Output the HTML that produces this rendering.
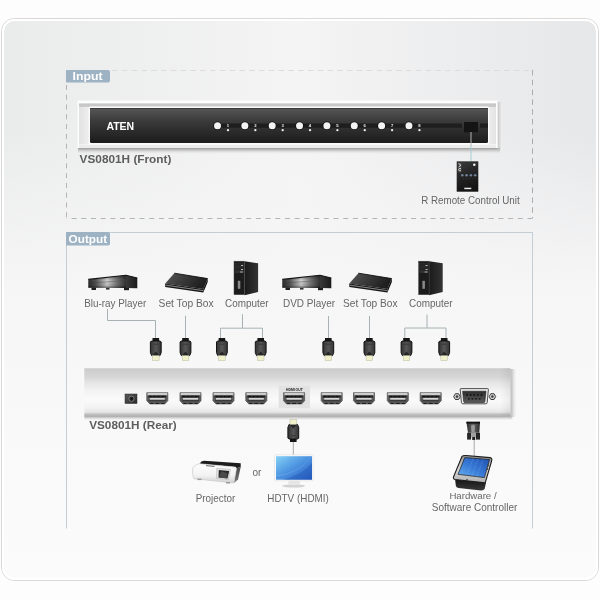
<!DOCTYPE html>
<html><head><meta charset="utf-8">
<style>
html,body{margin:0;padding:0;background:#fcfdfc;width:600px;height:600px;overflow:hidden}
svg{display:block;will-change:transform}
text{font-family:"Liberation Sans",sans-serif}
</style></head>
<body>
<svg width="600" height="600" viewBox="0 0 600 600">
<defs>
  <linearGradient id="card" x1="0" y1="0" x2="1" y2="0">
    <stop offset="0" stop-color="#eaebeb"/>
    <stop offset="0.5" stop-color="#f4f4f5"/>
    <stop offset="1" stop-color="#e6e7e8"/>
  </linearGradient>
  <linearGradient id="card2" x1="0" y1="0" x2="0" y2="1">
    <stop offset="0" stop-color="#f6f6f7" stop-opacity="0"/>
    <stop offset="0.2" stop-color="#f6f6f7" stop-opacity="0"/>
    <stop offset="0.48" stop-color="#f6f6f7" stop-opacity="1"/>
    <stop offset="0.75" stop-color="#f9f9f9" stop-opacity="1"/>
    <stop offset="1" stop-color="#fbfbfb" stop-opacity="1"/>
  </linearGradient>
  <linearGradient id="panel" x1="0" y1="0" x2="0" y2="1">
    <stop offset="0" stop-color="#575757"/>
    <stop offset="0.35" stop-color="#3c3c3c"/>
    <stop offset="0.7" stop-color="#2a2a2a"/>
    <stop offset="1" stop-color="#1c1c1c"/>
  </linearGradient>
  <linearGradient id="frameL" x1="0" y1="0" x2="1" y2="0">
    <stop offset="0" stop-color="#dcdcdc"/>
    <stop offset="0.4" stop-color="#eeeeee"/>
    <stop offset="1" stop-color="#ffffff"/>
  </linearGradient>
  <linearGradient id="frameR" x1="1" y1="0" x2="0" y2="0">
    <stop offset="0" stop-color="#dcdcdc"/>
    <stop offset="0.4" stop-color="#eeeeee"/>
    <stop offset="1" stop-color="#ffffff"/>
  </linearGradient>
  <linearGradient id="frameT" x1="0" y1="0" x2="0" y2="1">
    <stop offset="0" stop-color="#ffffff"/>
    <stop offset="0.3" stop-color="#e2e2e2"/>
    <stop offset="1" stop-color="#f8f8f8"/>
  </linearGradient>
  <linearGradient id="shadowB" x1="0" y1="0" x2="0" y2="1">
    <stop offset="0" stop-color="#b0b0b0"/>
    <stop offset="1" stop-color="#bcbcbc" stop-opacity="0"/>
  </linearGradient>
  <linearGradient id="shadowR" x1="0" y1="0" x2="1" y2="0">
    <stop offset="0" stop-color="#c4c4c4"/>
    <stop offset="1" stop-color="#c4c4c4" stop-opacity="0"/>
  </linearGradient>
  <linearGradient id="rear" x1="0" y1="0" x2="0" y2="1">
    <stop offset="0" stop-color="#dadada"/>
    <stop offset="0.03" stop-color="#cdcdcd"/>
    <stop offset="0.18" stop-color="#d5d5d5"/>
    <stop offset="0.32" stop-color="#e6e6e6"/>
    <stop offset="0.48" stop-color="#f3f3f3"/>
    <stop offset="0.67" stop-color="#fafafa"/>
    <stop offset="0.82" stop-color="#f3f3f3"/>
    <stop offset="0.92" stop-color="#e8e8e8"/>
    <stop offset="0.96" stop-color="#d0d0d0"/>
    <stop offset="1" stop-color="#a6a6a6"/>
  </linearGradient>
  <linearGradient id="plugBody" x1="0" y1="0" x2="1" y2="0">
    <stop offset="0" stop-color="#333"/>
    <stop offset="0.5" stop-color="#575757"/>
    <stop offset="1" stop-color="#333"/>
  </linearGradient>
  <linearGradient id="devFront" x1="0" y1="0" x2="1" y2="0">
    <stop offset="0" stop-color="#2a2a2a"/>
    <stop offset="0.2" stop-color="#555"/>
    <stop offset="0.5" stop-color="#d0d0d0"/>
    <stop offset="0.75" stop-color="#777"/>
    <stop offset="1" stop-color="#333"/>
  </linearGradient>
  <linearGradient id="screen" x1="0" y1="0" x2="1" y2="1">
    <stop offset="0" stop-color="#86d2f6"/>
    <stop offset="0.45" stop-color="#4f97e2"/>
    <stop offset="1" stop-color="#2a5ec4"/>
  </linearGradient>
  <linearGradient id="ctlScreen" x1="0" y1="1" x2="1" y2="0">
    <stop offset="0" stop-color="#6ab4f0"/>
    <stop offset="0.45" stop-color="#3a7cd8"/>
    <stop offset="1" stop-color="#1e50b0"/>
  </linearGradient>
  <linearGradient id="ctlFrame" x1="0" y1="0" x2="0" y2="1">
    <stop offset="0" stop-color="#8a8a8a"/>
    <stop offset="0.5" stop-color="#d8d8d8"/>
    <stop offset="1" stop-color="#b0b0b0"/>
  </linearGradient>
  <linearGradient id="ctlBase" x1="0" y1="0" x2="0" y2="1">
    <stop offset="0" stop-color="#111"/>
    <stop offset="1" stop-color="#3a3a3a"/>
  </linearGradient>
  <linearGradient id="db9plug" x1="0" y1="0" x2="1" y2="0">
    <stop offset="0" stop-color="#2a2a2a"/>
    <stop offset="0.5" stop-color="#6a6a6a"/>
    <stop offset="1" stop-color="#2a2a2a"/>
  </linearGradient>
  <linearGradient id="remoteG" x1="0" y1="0" x2="0.3" y2="1">
    <stop offset="0" stop-color="#3a3a3a"/>
    <stop offset="0.5" stop-color="#262626"/>
    <stop offset="1" stop-color="#141414"/>
  </linearGradient>
  <linearGradient id="devSide" x1="0" y1="0" x2="1" y2="0">
    <stop offset="0" stop-color="#3a3a3a"/>
    <stop offset="1" stop-color="#1a1a1a"/>
  </linearGradient>
  <linearGradient id="stbTop" x1="0" y1="0" x2="1" y2="0.3">
    <stop offset="0" stop-color="#555"/>
    <stop offset="0.5" stop-color="#3a3a3a"/>
    <stop offset="1" stop-color="#1e1e1e"/>
  </linearGradient>
  <linearGradient id="towerSide" x1="0" y1="0" x2="1" y2="0">
    <stop offset="0" stop-color="#1a1a1a"/>
    <stop offset="1" stop-color="#333"/>
  </linearGradient>
  <linearGradient id="jack" x1="0" y1="0" x2="1" y2="1">
    <stop offset="0" stop-color="#5a5a5a"/>
    <stop offset="1" stop-color="#2a2a2a"/>
  </linearGradient>
  <linearGradient id="db9in" x1="0" y1="0" x2="0" y2="1">
    <stop offset="0" stop-color="#2e2e2e"/>
    <stop offset="1" stop-color="#5a5a5a"/>
  </linearGradient>
  <linearGradient id="devShade" x1="0" y1="0" x2="0" y2="1">
    <stop offset="0" stop-color="#000" stop-opacity="0.35"/>
    <stop offset="0.4" stop-color="#000" stop-opacity="0"/>
    <stop offset="0.8" stop-color="#000" stop-opacity="0.1"/>
    <stop offset="1" stop-color="#000" stop-opacity="0.5"/>
  </linearGradient>
  <linearGradient id="frameIn" x1="0" y1="0" x2="1" y2="0">
    <stop offset="0" stop-color="#e2e2e2"/>
    <stop offset="0.025" stop-color="#efefef"/>
    <stop offset="0.975" stop-color="#efefef"/>
    <stop offset="1" stop-color="#e4e4e4"/>
  </linearGradient>
  <linearGradient id="frameTop" x1="0" y1="0" x2="0" y2="1">
    <stop offset="0" stop-color="#e8e8e8"/>
    <stop offset="0.3" stop-color="#c8c8c8"/>
    <stop offset="0.85" stop-color="#c8c8c8"/>
    <stop offset="1" stop-color="#dcdcdc"/>
  </linearGradient>
  <linearGradient id="projSide" x1="0" y1="0" x2="0" y2="1">
    <stop offset="0" stop-color="#4a4a4a"/>
    <stop offset="1" stop-color="#777"/>
  </linearGradient>
  <linearGradient id="projBody" x1="0" y1="0" x2="0" y2="1">
    <stop offset="0" stop-color="#fdfdfd"/>
    <stop offset="0.6" stop-color="#f2f2f2"/>
    <stop offset="1" stop-color="#d0d0d0"/>
  </linearGradient>
  <linearGradient id="shadowR2" x1="0" y1="0" x2="1" y2="0">
    <stop offset="0" stop-color="#b8b8b8"/>
    <stop offset="0.4" stop-color="#d4d4d4"/>
    <stop offset="1" stop-color="#e8e8e8" stop-opacity="0"/>
  </linearGradient>
  <linearGradient id="rearR" x1="0" y1="0" x2="1" y2="0">
    <stop offset="0" stop-color="#000" stop-opacity="0"/>
    <stop offset="1" stop-color="#000" stop-opacity="0.06"/>
  </linearGradient>
  <linearGradient id="shadowB3" x1="0" y1="0" x2="0" y2="1">
    <stop offset="0" stop-color="#9c9c9c"/>
    <stop offset="0.35" stop-color="#c4c4c4"/>
    <stop offset="1" stop-color="#e8e8e8" stop-opacity="0"/>
  </linearGradient>
  <g id="plug">
    <rect x="-3.3" y="0" width="6.6" height="3.4" fill="#161616"/>
    <path d="M-4.4 3 H4.4 L5.4 4 V14.6 L4.2 17.6 H-4.2 L-5.4 14.6 V4 Z" fill="url(#plugBody)" stroke="#121212" stroke-width="1"/>
    <path d="M-2.5 6.2 H2.5" stroke="#2a2a2a" stroke-width="0.7"/>
    <path d="M-3.2 17 L0 13.6 L3.2 17" fill="#262626"/>
    <rect x="-3.3" y="17.6" width="6.6" height="5" fill="#f1f2cc" stroke="#b9baa0" stroke-width="0.5"/>
  </g>
  <g id="port">
    <path d="M0 0.5 H21 V8.5 L18 11.7 H3 L0 8.5 Z" fill="#5c5c5c" stroke="#555" stroke-width="0.8"/>
    <rect x="0.6" y="0.6" width="19.8" height="2.4" fill="#d0d0d0" stroke="#8a8a8a" stroke-width="0.5"/>
    <rect x="1.6" y="3.3" width="17.8" height="2" fill="#262626"/>
    <path d="M3 4.3 h1.6 M7 4.3 h1.6 M11 4.3 h1.6 M15 4.3 h1.6" stroke="#0a0a0a" stroke-width="1.2"/>
    <rect x="3" y="6" width="15" height="1.5" fill="#f4f4f4"/>
    <rect x="2" y="7.6" width="17" height="1.6" fill="#3a3a3a"/>
    <path d="M3.5 11.2 h3 M8.5 11.2 h4 M14.5 11.2 h3" stroke="#1a1a1a" stroke-width="1"/>
  </g>
</defs>

<rect x="1.5" y="18.5" width="597" height="562" rx="13" fill="url(#card)"/>
<rect x="1.5" y="18.5" width="597" height="562" rx="13" fill="url(#card2)" stroke="#d8d8d8" stroke-width="1"/>
<rect x="3" y="20" width="594" height="559" rx="11.5" fill="none" stroke="#ffffff" stroke-width="2"/>
<path d="M110 70.5 H532" stroke="#dcdcdc" stroke-width="1" stroke-dasharray="5.5,4.3" stroke-dashoffset="7.8" fill="none"/>
<path d="M66.5 82.5 V218" stroke="#b4b4b4" stroke-width="1" stroke-dasharray="5,4.8" stroke-dashoffset="7.4" fill="none"/>
<path d="M66.5 218.5 H532" stroke="#b4b4b4" stroke-width="1" stroke-dasharray="5,4.7" stroke-dashoffset="4.6" fill="none"/>
<path d="M532.5 70 V218.5" stroke="#acacac" stroke-width="1" stroke-dasharray="5.5,4.3" fill="none"/>
<path d="M66 70 H108 a2 2 0 0 1 2 2 V80.5 a2 2 0 0 1 -2 2 H66 Z" fill="#9db2c2"/>
<text x="72.6" y="80.2" font-size="11.2" font-weight="bold" fill="#fff" textLength="30" lengthAdjust="spacingAndGlyphs">Input</text>
<rect x="78" y="148" width="422" height="6" fill="url(#shadowB3)"/>
<rect x="497.5" y="102" width="4" height="48" fill="url(#shadowR)"/>
<rect x="77.6" y="100.6" width="419.9" height="47.4" fill="#fdfdfd"/>
<rect x="79" y="103" width="417" height="41.5" fill="url(#frameIn)"/>
<rect x="79" y="103" width="417" height="4" fill="url(#frameTop)"/>
<rect x="88.6" y="106.6" width="400.6" height="38" rx="1.5" fill="#fbfbfb"/>
<rect x="79" y="145" width="417" height="3" fill="#ececec"/>
<rect x="90" y="108" width="398" height="35" rx="1.5" fill="url(#panel)"/>
<rect x="90" y="108" width="398" height="1" fill="#3a3a3a"/>
<rect x="222" y="123.5" width="240" height="4.3" fill="#1e1e1e"/>
<rect x="480" y="123.5" width="8" height="4.3" fill="#1e1e1e"/>
<rect x="464" y="122" width="14" height="10.3" fill="#141414"/>
<circle cx="217.50" cy="125.8" r="4.3" fill="#111"/>
<circle cx="217.50" cy="125.8" r="3.5" fill="#f4f4f4"/>
<text x="226.80" y="127.4" font-size="4.2" font-weight="bold" fill="#eee">1</text>
<circle cx="228.00" cy="130.2" r="1.15" fill="#f2f2f2"/>
<circle cx="244.85" cy="125.8" r="4.3" fill="#111"/>
<circle cx="244.85" cy="125.8" r="3.5" fill="#f4f4f4"/>
<text x="254.15" y="127.4" font-size="4.2" font-weight="bold" fill="#eee">2</text>
<circle cx="255.35" cy="130.2" r="1.15" fill="#f2f2f2"/>
<circle cx="272.20" cy="125.8" r="4.3" fill="#111"/>
<circle cx="272.20" cy="125.8" r="3.5" fill="#f4f4f4"/>
<text x="281.50" y="127.4" font-size="4.2" font-weight="bold" fill="#eee">3</text>
<circle cx="282.70" cy="130.2" r="1.15" fill="#f2f2f2"/>
<circle cx="299.55" cy="125.8" r="4.3" fill="#111"/>
<circle cx="299.55" cy="125.8" r="3.5" fill="#f4f4f4"/>
<text x="308.85" y="127.4" font-size="4.2" font-weight="bold" fill="#eee">4</text>
<circle cx="310.05" cy="130.2" r="1.15" fill="#f2f2f2"/>
<circle cx="326.90" cy="125.8" r="4.3" fill="#111"/>
<circle cx="326.90" cy="125.8" r="3.5" fill="#f4f4f4"/>
<text x="336.20" y="127.4" font-size="4.2" font-weight="bold" fill="#eee">5</text>
<circle cx="337.40" cy="130.2" r="1.15" fill="#f2f2f2"/>
<circle cx="354.25" cy="125.8" r="4.3" fill="#111"/>
<circle cx="354.25" cy="125.8" r="3.5" fill="#f4f4f4"/>
<text x="363.55" y="127.4" font-size="4.2" font-weight="bold" fill="#eee">6</text>
<circle cx="364.75" cy="130.2" r="1.15" fill="#f2f2f2"/>
<circle cx="381.60" cy="125.8" r="4.3" fill="#111"/>
<circle cx="381.60" cy="125.8" r="3.5" fill="#f4f4f4"/>
<text x="390.90" y="127.4" font-size="4.2" font-weight="bold" fill="#eee">7</text>
<circle cx="392.10" cy="130.2" r="1.15" fill="#f2f2f2"/>
<circle cx="408.95" cy="125.8" r="4.3" fill="#111"/>
<circle cx="408.95" cy="125.8" r="3.5" fill="#f4f4f4"/>
<text x="418.25" y="127.4" font-size="4.2" font-weight="bold" fill="#eee">8</text>
<circle cx="419.45" cy="130.2" r="1.15" fill="#f2f2f2"/>
<text x="106.4" y="129.9" font-size="10.8" font-weight="bold" fill="#fff" textLength="27.8" lengthAdjust="spacingAndGlyphs">ATEN</text>
<text x="79.6" y="163" font-size="11.4" font-weight="bold" fill="#5e5e5e" textLength="91.8" lengthAdjust="spacingAndGlyphs">VS0801H (Front)</text>
<line x1="471" y1="132" x2="471" y2="146" stroke="#b4b4b4" stroke-width="1"/>
<line x1="471" y1="146" x2="471" y2="161.3" stroke="#a6ccd2" stroke-width="1"/>
<rect x="456.7" y="161.3" width="21.6" height="30.4" fill="url(#remoteG)"/>
<circle cx="474.3" cy="164.8" r="1.3" fill="#f4f4f4"/>
<path d="M458.6 163.5 L461 165.3 L458.6 167 M461 168.6 Q458.3 168.2 458.5 169.8 Q458.8 171.2 461 170.8" stroke="#e0e0e0" stroke-width="0.9" fill="none"/>
<rect x="458.3" y="163" width="3.2" height="9.2" fill="#fff" opacity="0.12"/>
<circle cx="462.3" cy="175.2" r="1.3" fill="#7890a8" opacity="0.85"/>
<circle cx="466.6" cy="175.2" r="1.3" fill="#7890a8" opacity="0.85"/>
<circle cx="470.9" cy="175.2" r="1.3" fill="#7890a8" opacity="0.85"/>
<circle cx="475.2" cy="175.2" r="1.3" fill="#7890a8" opacity="0.85"/>
<path d="M463 178.5 H477" stroke="#555" stroke-width="0.4" stroke-dasharray="0.8,1.6"/>
<rect x="464.3" y="187.7" width="7" height="1.5" fill="#e8e8e8"/>
<text x="421.2" y="204.1" font-size="10" fill="#666" textLength="98.5" lengthAdjust="spacingAndGlyphs">R Remote Control Unit</text>
<path d="M66.5 528.5 V232.5 H532.5 V528.5" fill="none" stroke="#c3ced4" stroke-width="1"/>
<path d="M66 232 H108 a2 2 0 0 1 2 2 V243.5 a2 2 0 0 1 -2 2 H66 Z" fill="#9db2c2"/>
<text x="68.6" y="243.2" font-size="11.2" font-weight="bold" fill="#fff" textLength="38.5" lengthAdjust="spacingAndGlyphs">Output</text>
<g transform="translate(0.00,0)"><path d="M126 275.3 L137.3 278 L137.3 288.2 L126 288 Z" fill="url(#devSide)"/><path d="M88.3 279.4 L126 275.3 L126 288 L88.3 287.7 Z" fill="url(#devFront)"/><path d="M88.3 279.4 L126 275.3 L126 288 L88.3 287.7 Z" fill="url(#devShade)"/><path d="M88.3 279.4 L126 275.3 L137.3 278" stroke="#151515" stroke-width="1.1" fill="none"/><path d="M88.3 283 L126 280.5" stroke="#3a3a3a" stroke-width="0.5" opacity="0.7"/><rect x="91.5" y="287.6" width="4.5" height="2.4" fill="#1e1e1e"/><rect x="106" y="287.8" width="3.5" height="1.8" fill="#333"/><rect x="124" y="288" width="5" height="2.2" fill="#1e1e1e"/></g>
<g transform="translate(0.00,0)"><path d="M165.2 283.4 L174.3 273.2 L207.7 278.6 L203.3 289 Z" fill="url(#stbTop)"/><path d="M165.2 283.4 L203.3 289 L203.3 292.4 L165.2 287 Z" fill="#161616"/><path d="M165.8 285.2 L203 290.6" stroke="#a8a8a8" stroke-width="0.8"/><path d="M203.3 289 L207.7 278.6 L207.7 282 L203.3 292.4 Z" fill="#0c0c0c"/><path d="M174.3 273.2 L207.7 278.6" stroke="#0e0e0e" stroke-width="0.9"/></g>
<g transform="translate(0.00,0)"><path d="M244.5 261.2 L258.1 263.3 L258.1 292 L244.5 295.2 Z" fill="url(#towerSide)"/><rect x="234" y="261.2" width="10.5" height="33.5" fill="#1c1c1c"/><rect x="234" y="261.2" width="10.5" height="33.5" fill="none" stroke="#444" stroke-width="0.5"/><rect x="235" y="263.6" width="8.5" height="3" fill="#262626" stroke="#3a3a3a" stroke-width="0.4"/><rect x="241" y="265" width="2" height="1" fill="#bbb"/><rect x="235" y="267.5" width="8.5" height="3" fill="#262626" stroke="#3a3a3a" stroke-width="0.4"/><rect x="241" y="269" width="2" height="1" fill="#bbb"/><rect x="235" y="271.6" width="8.5" height="0.8" fill="#555"/><rect x="240" y="271.5" width="3" height="1" fill="#aaa"/><rect x="237.8" y="280.8" width="2.5" height="8" fill="#8a8a8a"/></g>
<g transform="translate(194.00,0)"><path d="M126 275.3 L137.3 278 L137.3 288.2 L126 288 Z" fill="url(#devSide)"/><path d="M88.3 279.4 L126 275.3 L126 288 L88.3 287.7 Z" fill="url(#devFront)"/><path d="M88.3 279.4 L126 275.3 L126 288 L88.3 287.7 Z" fill="url(#devShade)"/><path d="M88.3 279.4 L126 275.3 L137.3 278" stroke="#151515" stroke-width="1.1" fill="none"/><path d="M88.3 283 L126 280.5" stroke="#3a3a3a" stroke-width="0.5" opacity="0.7"/><rect x="91.5" y="287.6" width="4.5" height="2.4" fill="#1e1e1e"/><rect x="106" y="287.8" width="3.5" height="1.8" fill="#333"/><rect x="124" y="288" width="5" height="2.2" fill="#1e1e1e"/></g>
<g transform="translate(184.10,0)"><path d="M165.2 283.4 L174.3 273.2 L207.7 278.6 L203.3 289 Z" fill="url(#stbTop)"/><path d="M165.2 283.4 L203.3 289 L203.3 292.4 L165.2 287 Z" fill="#161616"/><path d="M165.8 285.2 L203 290.6" stroke="#a8a8a8" stroke-width="0.8"/><path d="M203.3 289 L207.7 278.6 L207.7 282 L203.3 292.4 Z" fill="#0c0c0c"/><path d="M174.3 273.2 L207.7 278.6" stroke="#0e0e0e" stroke-width="0.9"/></g>
<g transform="translate(184.60,0)"><path d="M244.5 261.2 L258.1 263.3 L258.1 292 L244.5 295.2 Z" fill="url(#towerSide)"/><rect x="234" y="261.2" width="10.5" height="33.5" fill="#1c1c1c"/><rect x="234" y="261.2" width="10.5" height="33.5" fill="none" stroke="#444" stroke-width="0.5"/><rect x="235" y="263.6" width="8.5" height="3" fill="#262626" stroke="#3a3a3a" stroke-width="0.4"/><rect x="241" y="265" width="2" height="1" fill="#bbb"/><rect x="235" y="267.5" width="8.5" height="3" fill="#262626" stroke="#3a3a3a" stroke-width="0.4"/><rect x="241" y="269" width="2" height="1" fill="#bbb"/><rect x="235" y="271.6" width="8.5" height="0.8" fill="#555"/><rect x="240" y="271.5" width="3" height="1" fill="#aaa"/><rect x="237.8" y="280.8" width="2.5" height="8" fill="#8a8a8a"/></g>
<g font-size="10.5" fill="#666">
<text x="84.2" y="306.7" textLength="62" lengthAdjust="spacingAndGlyphs">Blu-ray Player</text>
<text x="158.6" y="306.7" textLength="55" lengthAdjust="spacingAndGlyphs">Set Top Box</text>
<text x="225" y="306.7" textLength="43.5" lengthAdjust="spacingAndGlyphs">Computer</text>
<text x="283" y="306.7" textLength="52" lengthAdjust="spacingAndGlyphs">DVD Player</text>
<text x="343" y="306.7" textLength="54.5" lengthAdjust="spacingAndGlyphs">Set Top Box</text>
<text x="409" y="306.7" textLength="43.5" lengthAdjust="spacingAndGlyphs">Computer</text>
</g>
<g stroke="#a6b2b4" stroke-width="1" fill="none">
<path d="M107.5 309 V320.5 H155.5 V338.5"/>
<path d="M185.5 315.8 V338.5"/>
<path d="M242.5 314.2 V328.2 M220.5 338.5 V328.2 H262.5 V338.5"/>
<path d="M328.5 316 V338.5"/>
<path d="M369.5 316 V338.5"/>
<path d="M427 314.5 V328 M404.8 338.5 V328 H446 V338.5"/>
</g>
<use href="#plug" transform="translate(155.8,338)"/>
<use href="#plug" transform="translate(185.5,338)"/>
<use href="#plug" transform="translate(221.9,338)"/>
<use href="#plug" transform="translate(260.7,338)"/>
<use href="#plug" transform="translate(328.3,338)"/>
<use href="#plug" transform="translate(369.4,338)"/>
<use href="#plug" transform="translate(406.5,338)"/>
<use href="#plug" transform="translate(444.2,338)"/>
<rect x="84.3" y="415.5" width="428" height="5" fill="url(#shadowB3)"/>
<rect x="510.3" y="369" width="6" height="48" fill="url(#shadowR2)"/>
<rect x="84.3" y="368" width="426" height="47.5" fill="url(#rear)"/>
<rect x="500" y="368" width="10.3" height="47.5" fill="url(#rearR)"/>
<rect x="125" y="394" width="12" height="9.5" fill="url(#jack)" stroke="#2a2a2a" stroke-width="0.5"/>
<circle cx="131.5" cy="398.8" r="2.6" fill="#222" stroke="#8a8a8a" stroke-width="0.8"/>
<circle cx="131.5" cy="398.8" r="1" fill="#111"/>
<rect x="278.7" y="385.7" width="31.3" height="22.6" fill="#e2e2e2"/>
<text x="286" y="390.8" font-size="4.2" font-weight="bold" fill="#111" textLength="16.7" lengthAdjust="spacingAndGlyphs">HDMI OUT</text>
<use href="#port" transform="translate(146.8,392.2)"/>
<use href="#port" transform="translate(180,392.2)"/>
<use href="#port" transform="translate(213,392.2)"/>
<use href="#port" transform="translate(245.8,392.2)"/>
<use href="#port" transform="translate(283.6,392.2)"/>
<use href="#port" transform="translate(321.2,392.2)"/>
<use href="#port" transform="translate(353.5,392.2)"/>
<use href="#port" transform="translate(387.3,392.2)"/>
<use href="#port" transform="translate(420.2,392.2)"/>
<g>
<path d="M453.7 396.6 L455.4 393.7 H458.6 L460.3 396.6 L458.6 399.5 H455.4 Z" fill="#cfcfcf" stroke="#2a2a2a" stroke-width="0.9"/>
<circle cx="457" cy="396.6" r="1.3" fill="#444"/>
<path d="M489.1 396.6 L490.8 393.7 H494.0 L495.7 396.6 L494.0 399.5 H490.8 Z" fill="#cfcfcf" stroke="#2a2a2a" stroke-width="0.9"/>
<circle cx="492.4" cy="396.6" r="1.3" fill="#444"/>
<path d="M460.2 389.2 Q460.2 388.6 461 388.6 H487.6 Q488.4 388.6 488.4 389.2 L487.2 402.6 Q487 403.8 485.8 403.8 H462.8 Q461.6 403.8 461.4 402.6 Z" fill="#ececec" stroke="#3a3a3a" stroke-width="0.9"/>
<path d="M462.6 391.2 H486 L484.9 401.6 Q484.8 402.5 483.9 402.5 H464.7 Q463.8 402.5 463.7 401.6 Z" fill="url(#db9in)" stroke="#1e1e1e" stroke-width="0.6"/>
<rect x="466.2" y="394.2" width="1.7" height="1.5" fill="#0e0e0e"/>
<rect x="469.8" y="394.2" width="1.7" height="1.5" fill="#0e0e0e"/>
<rect x="473.4" y="394.2" width="1.7" height="1.5" fill="#0e0e0e"/>
<rect x="477.0" y="394.2" width="1.7" height="1.5" fill="#0e0e0e"/>
<rect x="480.6" y="394.2" width="1.7" height="1.5" fill="#0e0e0e"/>
<rect x="468.0" y="398.2" width="1.7" height="1.3" fill="#111"/>
<rect x="471.6" y="398.2" width="1.7" height="1.3" fill="#111"/>
<rect x="475.2" y="398.2" width="1.7" height="1.3" fill="#111"/>
<rect x="478.8" y="398.2" width="1.7" height="1.3" fill="#111"/>
</g>
<text x="89.2" y="429.3" font-size="11.4" font-weight="bold" fill="#5e5e5e" textLength="87.5" lengthAdjust="spacingAndGlyphs">VS0801H (Rear)</text>
<line x1="293.3" y1="441" x2="293.3" y2="455" stroke="#aaa" stroke-width="1"/>
<g transform="translate(293.3,442) scale(1,-1)"><use href="#plug"/></g>
<ellipse cx="293.6" cy="486" rx="11.5" ry="1.6" fill="#d2d2d2"/>
<rect x="288.5" y="480.5" width="11.4" height="4.5" fill="#e6e6e6"/>
<rect x="274.6" y="454.8" width="38.4" height="26" rx="0.8" fill="#fbfbfb" stroke="#d8dde0" stroke-width="0.6"/>
<rect x="276" y="456.2" width="36" height="23.5" fill="url(#screen)"/>
<path d="M276 476 Q298 474 311.5 457" stroke="#a8d4f8" stroke-width="0.6" fill="none" opacity="0.35"/>
<path d="M283 479.7 Q303 474 312 463 L312 479.7 Z" fill="#1a4cb0" opacity="0.35"/>
<path d="M199.6 463.7 Q201 460.8 204 460.8 L240.7 463.2 L240.7 467 L236.4 468.3 L235.4 467.1 Z" fill="#1c1c1c"/>
<path d="M236.4 468.3 L240.7 467 L238 479.5 L233.9 483 Z" fill="url(#projSide)"/>
<path d="M192.8 467.6 Q196 464 199.6 463.7 L235.4 467.1 Q236.6 467.6 236.4 469 L233.9 483 L193.8 478.7 Q191.7 473 192.8 467.6 Z" fill="url(#projBody)" stroke="#c4c4c4" stroke-width="0.6"/>
<path d="M216.8 468.2 L230.4 469.3 L228.3 479.6 L216.6 478.4 Z" fill="#e4e4e4" stroke="#a8a8a8" stroke-width="0.5"/>
<path d="M218.8 470 L229.2 471 L227.5 478.6 L218.5 477.6 Z" fill="#2a2a2a"/>
<path d="M221 471.5 Q226 472 227.5 474 L226.5 478.2 L219 477.4 Z" fill="#4a4a4a"/>
<path d="M206 465.6 L214.5 466.4" stroke="#6a6a6a" stroke-width="1"/>
<rect x="197.5" y="478.6" width="4" height="1.5" fill="#999"/><rect x="226" y="482" width="4" height="1.5" fill="#999"/>
<line x1="474.2" y1="439" x2="474.2" y2="456" stroke="#a8a8a8" stroke-width="1"/>
<path d="M466.4 421.8 H480 L479.3 432.8 H468 Z" fill="url(#db9plug)"/>
<rect x="466.4" y="421.8" width="13.6" height="1.8" fill="#111"/>
<path d="M471 426 Q473 424 475 426 L474.5 432 H471.5 Z" fill="#9a9a9a"/>
<rect x="467.1" y="432.8" width="4" height="6.8" fill="#262626"/>
<rect x="476" y="432.8" width="4" height="6.8" fill="#262626"/>
<rect x="471.1" y="432.8" width="4.9" height="4.5" fill="#a0a0a0"/>
<rect x="472.2" y="437" width="3" height="3" fill="#222"/>
<path d="M455 478.5 L486 482.5 L484.6 489 Q483.5 490.6 481 490.4 L458.5 488 Q456 487.6 455.8 485.5 Z" fill="url(#ctlBase)"/>
<path d="M462 456.4 Q463 455.3 466 455.5 L490 457.6 Q492.5 458 491.6 461 L485.2 482.8 L455 479.5 Q452.8 479 453.6 476.8 Z" fill="url(#ctlFrame)" stroke="#1e1e1e" stroke-width="1.1"/>
<path d="M464.8 457.6 L489.6 459.5 L484.4 477.6 L458 474.3 Z" fill="url(#ctlScreen)" stroke="#1a1a1a" stroke-width="0.7"/>
<path d="M473 458.6 L467 475.5 M478 459 L472 476 M483 459.3 L477 476.8" stroke="#8fb8ec" stroke-width="0.6" stroke-dasharray="1,1.2" opacity="0.7"/>
<circle cx="488.2" cy="465.5" r="0.9" fill="#444"/><circle cx="487.3" cy="469" r="0.9" fill="#444"/>
<rect x="466" y="479.3" width="2" height="1" fill="#444"/>
<g font-size="10.5" fill="#666">
<text x="195.7" y="502" textLength="39.5" lengthAdjust="spacingAndGlyphs">Projector</text>
<text x="252.5" y="476" font-size="10">or</text>
<text x="267.3" y="502" textLength="61.5" lengthAdjust="spacingAndGlyphs">HDTV (HDMI)</text>
<text x="449.4" y="498.8" font-size="8.6" textLength="47.2" lengthAdjust="spacingAndGlyphs">Hardware /</text>
<text x="431.8" y="510.8" textLength="85.5" lengthAdjust="spacingAndGlyphs">Software Controller</text>
</g>
</svg>
</body></html>
